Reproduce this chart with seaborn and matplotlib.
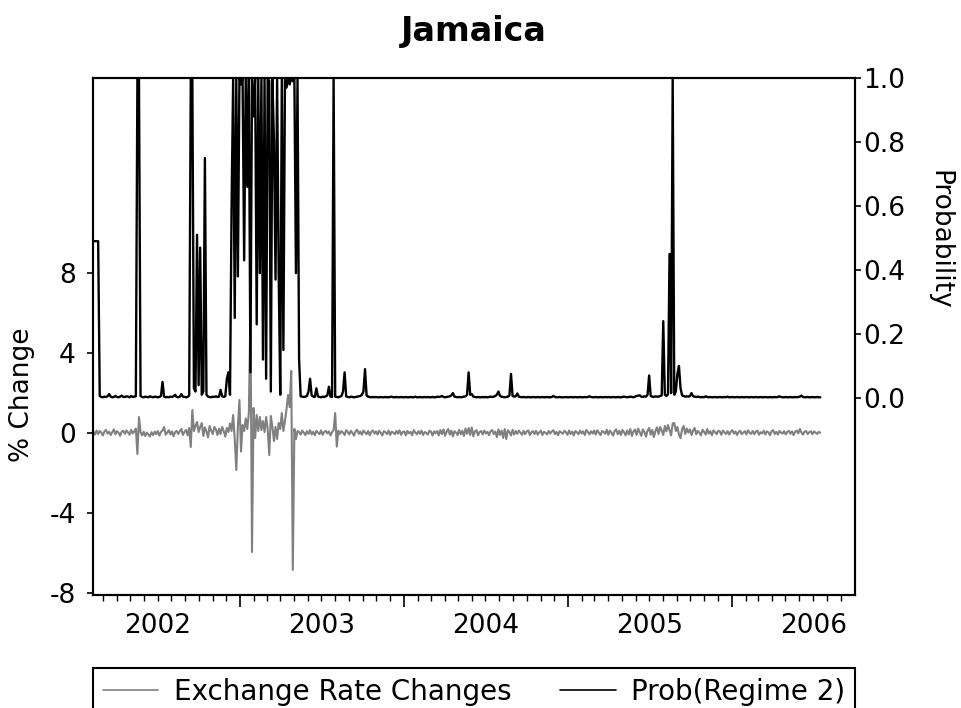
import numpy as np
import pandas as pd
import matplotlib
matplotlib.use("Agg")
import matplotlib.pyplot as plt
import matplotlib.dates as mdates
import seaborn as sns

# Twice-weekly observations (every 3.5 days) starting 8 Feb 2002
start_date = "2002-02-08"
step = "84h"

# Exchange rate changes, % (left axis)
exchange_rate_changes = [
    0.05, -0.08, 0.12, -0.05, 0.10, 0.02, -0.12, 0.08, 0.15, -0.03, 0.06, -0.10, 0.04, 0.18, -0.06, 0.09, 0.01, -0.14, 0.07, 0.11,
    -0.04, 0.13, 0.03, -0.09, 0.16, -0.02, 0.08, 0.22, -1.05, 0.80, 0.05, -0.12, 0.06, -0.15, 0.02, -0.08, -0.18, 0.04, -0.11, 0.07,
    -0.06, 0.10, -0.13, 0.05, 0.12, 0.30, -0.09, 0.03, 0.14, -0.07, 0.08, -0.16, 0.04, 0.11, -0.05, 0.09, 0.20, -0.10, 0.06, 0.15,
    -0.12, 0.25, -0.70, 1.15, 0.10, 0.35, 0.55, 0.05, 0.30, 0.50, -0.15, 0.28, 0.08, -0.22, 0.35, 0.12, -0.05, 0.30, 0.18, -0.10,
    0.22, -0.05, 0.30, 0.10, -0.18, 0.25, 0.05, 0.48, 0.10, 0.90, -0.30, -1.85, 0.30, 1.65, -0.93, 0.40, 0.10, 0.73, 0.20, 1.00,
    6.15, -5.95, 1.25, -0.25, 0.90, 0.10, 0.80, 0.15, 0.60, 0.05, 0.80, 0.20, -1.10, 0.85, 0.30, -0.40, 0.30, -0.30, 0.50, 0.20,
    1.00, 0.10, 0.60, 1.20, 1.90, 1.30, 3.10, -6.85, 0.20, -0.30, 0.10, 0.05, -0.08, 0.12, 0.02, -0.10, 0.09, -0.04, 0.14, -0.07,
    0.06, -0.11, 0.10, 0.03, -0.06, 0.13, -0.09, 0.05, 0.11, -0.02, 0.08, -0.12, 0.04, 0.15, 1.00, -0.68, 0.12, -0.05, 0.09, 0.02,
    -0.10, 0.14, 0.05, -0.07, 0.11, 0.00, -0.13, 0.09, 0.16, -0.04, 0.07, -0.09, 0.12, 0.03, -0.06, 0.10, -0.11, 0.06, 0.13, -0.03,
    0.08, -0.08, 0.11, 0.01, -0.12, 0.09, 0.04, -0.05, 0.12, -0.10, 0.07, 0.02, -0.06, 0.10, -0.03, 0.13, -0.09, 0.05, 0.08, -0.12,
    0.10, -0.02, 0.06, -0.11, 0.14, 0.03, -0.07, 0.09, -0.04, 0.12, -0.10, 0.05, 0.01, -0.08, 0.11, 0.07, -0.13, 0.08, -0.01, 0.10,
    -0.12, 0.15, -0.05, 0.18, -0.14, 0.06, 0.20, -0.08, 0.12, -0.17, 0.09, 0.02, -0.10, 0.16, -0.06, 0.11, -0.15, 0.22, -0.04, 0.25,
    -0.10, 0.28, -0.16, 0.08, 0.14, -0.12, 0.05, 0.10, -0.07, 0.12, -0.02, 0.06, -0.11, 0.09, 0.15, -0.05, 0.07, -0.20, 0.18, -0.09,
    0.12, -0.25, 0.20, -0.30, 0.14, 0.05, -0.12, 0.16, -0.08, 0.10, -0.04, 0.12, 0.02, -0.09, 0.11, -0.06, 0.08, 0.13, -0.10, 0.04,
    0.09, -0.05, 0.11, -0.08, 0.03, 0.12, -0.10, 0.06, 0.01, -0.07, 0.10, -0.03, 0.08, 0.14, -0.06, 0.05, -0.11, 0.09, 0.02, -0.04,
    0.11, 0.04, -0.09, 0.13, -0.05, 0.07, -0.12, 0.10, 0.03, -0.06, 0.12, -0.02, 0.08, -0.10, 0.15, 0.05, -0.07, 0.09, -0.03, 0.12,
    -0.08, 0.14, 0.02, -0.11, 0.10, 0.06, -0.04, 0.16, -0.09, 0.12, 0.01, -0.13, 0.09, 0.18, -0.06, 0.11, -0.10, 0.15, 0.04, -0.12,
    0.13, -0.07, 0.20, -0.15, 0.08, 0.17, -0.10, 0.22, 0.03, -0.14, 0.18, 0.05, -0.18, 0.12, 0.25, -0.08, 0.15, -0.20, 0.10, 0.28,
    -0.05, 0.30, 0.12, -0.10, 0.35, 0.08, 0.40, 0.15, -0.12, 0.48, 0.50, 0.10, 0.30, -0.08, -0.25, 0.20, 0.35, -0.05, 0.22, 0.02,
    0.18, -0.10, 0.12, 0.25, -0.06, 0.10, 0.02, -0.12, 0.16, 0.06, -0.08, 0.20, -0.03, 0.09, -0.11, 0.13, 0.04, -0.06, 0.11, 0.08,
    -0.09, 0.12, 0.03, -0.05, 0.10, -0.08, 0.06, 0.14, -0.03, 0.08, -0.10, 0.05, 0.11, -0.06, 0.02, 0.09, -0.07, 0.13, 0.01, -0.04,
    0.10, -0.06, 0.07, 0.12, -0.09, 0.04, -0.02, 0.11, -0.07, 0.08, 0.03, -0.11, 0.09, 0.14, -0.05, 0.06, -0.08, 0.10, 0.02, -0.03,
    0.09, -0.07, 0.05, 0.11, -0.04, 0.08, -0.10, 0.06, 0.12, -0.02, 0.20, 0.03, -0.08, 0.07, 0.10, -0.05, 0.04, 0.09, -0.06, 0.08,
    0.02, -0.05, 0.06, 0.01,
]

# Smoothed probability of the high-volatility regime (right axis)
prob_regime2 = [
    0.49, 0.49, 0.49, 0.49, 0.006, 0.003, 0.002, 0.004, 0.003, 0.005, 0.012, 0.004, 0.002, 0.003, 0.006, 0.003, 0.002, 0.004, 0.007, 0.003,
    0.003, 0.005, 0.004, 0.002, 0.006, 0.003, 0.004, 0.005, 1.0, 1.0, 0.006, 0.003, 0.002, 0.004, 0.003, 0.002, 0.005, 0.003, 0.002, 0.004,
    0.003, 0.002, 0.003, 0.006, 0.050, 0.004, 0.002, 0.003, 0.002, 0.004, 0.003, 0.005, 0.010, 0.003, 0.002, 0.004, 0.012, 0.004, 0.003, 0.002,
    0.003, 0.008, 1.0, 1.0, 0.030, 0.020, 0.510, 0.040, 0.470, 0.010, 0.020, 0.750, 0.010, 0.004, 0.003, 0.002, 0.004, 0.003, 0.005, 0.003,
    0.004, 0.025, 0.005, 0.003, 0.006, 0.060, 0.080, 0.010, 0.600, 1.0, 0.250, 1.0, 0.380, 1.0, 0.980, 1.0, 0.430, 1.0, 0.660, 1.0,
    0.080, 1.0, 0.880, 1.0, 0.230, 1.0, 0.390, 1.0, 0.120, 1.0, 0.060, 1.0, 0.990, 0.020, 1.0, 0.800, 0.370, 1.0, 0.390, 0.010,
    1.0, 0.150, 1.0, 0.970, 1.0, 0.980, 1.0, 0.990, 1.0, 0.390, 1.0, 0.120, 0.005, 0.004, 0.003, 0.004, 0.006, 0.020, 0.060, 0.008,
    0.004, 0.003, 0.030, 0.005, 0.003, 0.002, 0.004, 0.003, 0.005, 0.008, 0.035, 0.004, 0.003, 1.0, 0.004, 0.003, 0.002, 0.004, 0.006, 0.020,
    0.080, 0.005, 0.003, 0.002, 0.004, 0.003, 0.002, 0.003, 0.004, 0.005, 0.006, 0.010, 0.020, 0.090, 0.008, 0.004, 0.003, 0.002, 0.003, 0.002,
    0.003, 0.002, 0.002, 0.003, 0.002, 0.002, 0.003, 0.002, 0.002, 0.003, 0.004, 0.002, 0.002, 0.003, 0.002, 0.002, 0.003, 0.002, 0.002, 0.003,
    0.002, 0.002, 0.003, 0.002, 0.002, 0.004, 0.002, 0.002, 0.003, 0.002, 0.002, 0.003, 0.002, 0.003, 0.002, 0.002, 0.003, 0.002, 0.002, 0.004,
    0.003, 0.004, 0.006, 0.003, 0.002, 0.003, 0.004, 0.005, 0.008, 0.015, 0.004, 0.003, 0.002, 0.003, 0.002, 0.003, 0.004, 0.005, 0.010, 0.080,
    0.010, 0.012, 0.004, 0.003, 0.002, 0.003, 0.002, 0.002, 0.003, 0.002, 0.003, 0.002, 0.003, 0.004, 0.003, 0.004, 0.006, 0.010, 0.020, 0.006,
    0.004, 0.003, 0.002, 0.003, 0.004, 0.008, 0.075, 0.006, 0.004, 0.005, 0.014, 0.004, 0.003, 0.002, 0.003, 0.002, 0.002, 0.003, 0.002, 0.002,
    0.003, 0.002, 0.002, 0.003, 0.002, 0.002, 0.003, 0.002, 0.002, 0.003, 0.002, 0.002, 0.003, 0.006, 0.003, 0.002, 0.002, 0.003, 0.002, 0.002,
    0.002, 0.003, 0.002, 0.002, 0.003, 0.002, 0.002, 0.003, 0.002, 0.002, 0.003, 0.002, 0.002, 0.003, 0.002, 0.003, 0.005, 0.003, 0.002, 0.002,
    0.003, 0.002, 0.002, 0.003, 0.002, 0.002, 0.003, 0.002, 0.003, 0.002, 0.002, 0.003, 0.002, 0.002, 0.003, 0.002, 0.002, 0.003, 0.004, 0.003,
    0.002, 0.003, 0.004, 0.003, 0.002, 0.004, 0.006, 0.007, 0.008, 0.004, 0.003, 0.005, 0.004, 0.010, 0.070, 0.006, 0.004, 0.003, 0.005, 0.004,
    0.004, 0.006, 0.008, 0.240, 0.010, 0.006, 0.012, 0.450, 0.015, 1.0, 0.010, 0.020, 0.075, 0.100, 0.030, 0.008, 0.006, 0.004, 0.005, 0.004,
    0.006, 0.015, 0.005, 0.004, 0.003, 0.004, 0.003, 0.002, 0.003, 0.002, 0.005, 0.003, 0.002, 0.003, 0.002, 0.002, 0.003, 0.002, 0.002, 0.003,
    0.002, 0.002, 0.003, 0.002, 0.004, 0.002, 0.002, 0.003, 0.002, 0.002, 0.003, 0.002, 0.002, 0.003, 0.002, 0.002, 0.003, 0.002, 0.002, 0.003,
    0.002, 0.002, 0.003, 0.002, 0.002, 0.003, 0.002, 0.002, 0.003, 0.002, 0.002, 0.003, 0.002, 0.002, 0.003, 0.002, 0.003, 0.005, 0.003, 0.002,
    0.002, 0.003, 0.002, 0.002, 0.003, 0.002, 0.002, 0.003, 0.002, 0.003, 0.004, 0.007, 0.003, 0.002, 0.002, 0.003, 0.002, 0.002, 0.003, 0.002,
    0.002, 0.003, 0.002, 0.002,
]

year_labels = ["2002", "2003", "2004", "2005", "2006"]
pct_ticks = [-8, -4, 0, 4, 8]
prob_ticks = [0.0, 0.2, 0.4, 0.6, 0.8, 1.0]
series_labels = ["Exchange Rate Changes", "Prob(Regime 2)"]

dates = pd.date_range(start_date, periods=len(prob_regime2), freq=step)
df = pd.DataFrame({"date": dates, "change": exchange_rate_changes, "prob": prob_regime2})

sns.set_theme(style="white")
plt.rcParams["font.family"] = ["DejaVu Sans"]
plt.rcParams["text.color"] = "black"

W, H = 962, 708
fig = plt.figure(figsize=(W / 100, H / 100), dpi=100)
fig.patch.set_facecolor("white")
ax = fig.add_axes([93 / W, 1 - 595 / H, 762 / W, 517 / H])
ax2 = ax.twinx()

sns.lineplot(data=df, x="date", y="change", ax=ax, color="#808080",
             linewidth=1.5, legend=False)
sns.lineplot(data=df, x="date", y="prob", ax=ax2, color="black",
             linewidth=1.7, legend=False)

# Axis ranges
ax.set_xlim(pd.Timestamp("2002-02-07"), pd.Timestamp("2006-10-03"))
ax.set_ylim(-8.1, 17.75)
ax2.set_ylim(-0.616, 1.0)

# Left axis ticks
ax.set_yticks(pct_ticks)
ax.set_yticklabels([str(t) for t in pct_ticks])
ax.tick_params(axis="y", which="major", left=True, direction="out", length=4.5,
               width=1.2, labelsize=19, pad=8, color="black", labelcolor="black")

# Right axis ticks
ax2.set_yticks(prob_ticks)
ax2.set_yticklabels([f"{t:.1f}" for t in prob_ticks])
ax2.tick_params(axis="y", which="major", right=True, direction="out", length=4.5,
                width=1.2, labelsize=19, pad=1.5, color="black", labelcolor="black")

# Date axis: long ticks at year boundaries, short ticks each month
year_starts = [pd.Timestamp(f"{y}-01-01") for y in range(2003, 2007)]
month_starts = pd.date_range("2002-03-01", "2006-09-01", freq="MS")
ax.set_xticks(year_starts)
ax.set_xticklabels([])
ax.set_xticks(month_starts, minor=True)
ax.tick_params(axis="x", which="major", bottom=True, direction="out",
               length=8.5, width=1.2, color="black")
ax.tick_params(axis="x", which="minor", bottom=True, direction="out",
               length=4.5, width=1.0, color="black")
ax.set_xlabel("")
ax2.set_xlabel("")

# Year labels centred in each year
mid_years = [mdates.date2num(pd.Timestamp(f"{y}-07-02")) for y in year_labels]
sec = ax.secondary_xaxis("bottom")
sec.set_xticks(mid_years)
sec.set_xticklabels(year_labels)
sec.tick_params(axis="x", length=0, labelsize=19, pad=13, labelcolor="black")
sec.spines["bottom"].set_visible(False)

# Frame
for a in (ax, ax2):
    for s in a.spines.values():
        s.set_visible(True)
        s.set_color("black")
        s.set_linewidth(1.5)

ax.set_ylabel("% Change", fontsize=19, color="black", ha="center", va="center")
ax.yaxis.set_label_coords(-0.093, 0.387)
ax2.set_ylabel("Probability", fontsize=19, color="black", rotation=-90,
               ha="center", va="center")
ax2.yaxis.set_label_coords(1.111, 0.687)

fig.text(474 / W, 1 - 32 / H, "Jamaica", fontsize=24, fontweight="bold",
         ha="center", va="center", color="black")

handles = [ax.get_lines()[0], ax2.get_lines()[0]]
leg = fig.legend(handles, series_labels, loc="upper left",
                 bbox_to_anchor=(93 / W, 1 - 668 / H, 762 / W, 0), mode="expand",
                 ncol=2, frameon=True, fancybox=False, edgecolor="black",
                 fontsize=20, handlelength=2.0, handletextpad=0.55,
                 borderpad=0.35, borderaxespad=0, framealpha=1)
leg.get_frame().set_linewidth(1.5)
for t in leg.get_texts():
    t.set_color("black")
for h in leg.legend_handles:
    h.set_linewidth(1.2)

fig.savefig("out.png", dpi=100, facecolor="white")
